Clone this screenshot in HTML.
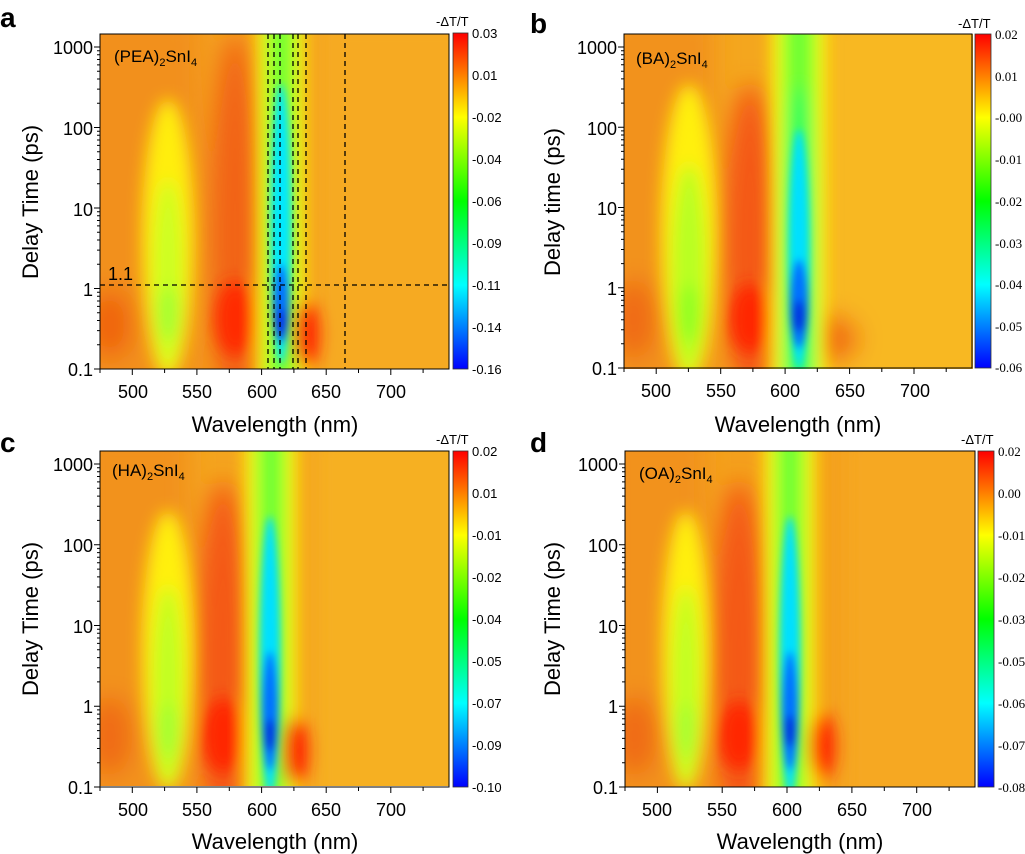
<!DOCTYPE html>
<html><head><meta charset="utf-8"><style>
html,body{margin:0;padding:0;background:#fff;}
svg{display:block;font-family:"Liberation Sans",Arial,sans-serif;}
.tl{font-size:18px;fill:#000;}
.ti{font-size:22px;fill:#000;}
.cb{font-size:13px;fill:#000;}
.cbs{font-size:13px;fill:#000;font-family:"Liberation Serif",serif;}
.pl{font-size:28px;font-weight:bold;fill:#000;}
.nm{font-size:17px;fill:#000;}
</style></head><body>
<svg id="s" width="1025" height="854" viewBox="0 0 1025 854" xmlns="http://www.w3.org/2000/svg">
<defs>
<filter id="b6" x="-50%" y="-50%" width="200%" height="200%"><feGaussianBlur stdDeviation="8"/></filter>
<filter id="b3" x="-50%" y="-50%" width="200%" height="200%"><feGaussianBlur stdDeviation="4"/></filter>
<filter id="b10" x="-50%" y="-50%" width="200%" height="200%"><feGaussianBlur stdDeviation="12"/></filter>
<linearGradient id="jet" x1="0" y1="0" x2="0" y2="1">
<stop offset="0" stop-color="#ff0000"/><stop offset="0.12" stop-color="#ff7a00"/><stop offset="0.25" stop-color="#ffff00"/><stop offset="0.5" stop-color="#00ff00"/><stop offset="0.75" stop-color="#00ffff"/><stop offset="1" stop-color="#0000ff"/>
</linearGradient>
<clipPath id="ca"><rect x="0" y="0" width="349" height="335"/></clipPath>
<clipPath id="cd"><rect x="0" y="0" width="350" height="336"/></clipPath>
</defs>

<!-- Panel a -->
<g transform="translate(100,34)">
<g clip-path="url(#ca)">
<rect width="349" height="335" fill="#f4a01c"/>
<g filter="url(#b10)">
<rect x="215" y="-20" width="160" height="380" fill="#f6aa22"/>
<rect x="-20" y="-20" width="120" height="380" fill="#f2901a"/>
<ellipse cx="10" cy="290" rx="22" ry="35" fill="#f06410"/>
<ellipse cx="135" cy="200" rx="26" ry="200" fill="#f26412"/>
</g>
<g filter="url(#b6)">
<ellipse cx="135" cy="285" rx="20" ry="38" fill="#ff2a00"/>
<ellipse cx="68" cy="205" rx="26" ry="140" fill="#ffee10"/>
<ellipse cx="68" cy="240" rx="15" ry="95" fill="#ccff20"/>
<ellipse cx="68" cy="280" rx="11" ry="28" fill="#a0ff30"/>
<rect x="158" y="-20" width="46" height="380" fill="#ffff00"/>
<rect x="167" y="-20" width="28" height="380" fill="#70ff30"/>
<ellipse cx="206" cy="300" rx="13" ry="34" fill="#ff2000"/>
</g>
<g filter="url(#b3)">
<ellipse cx="181" cy="190" rx="10" ry="140" fill="#00e8ff"/>
<ellipse cx="181" cy="270" rx="8" ry="40" fill="#0070ff"/>
<ellipse cx="181" cy="290" rx="6" ry="16" fill="#0030f0"/>
</g>
</g>
<g stroke="#000" stroke-width="1.3" stroke-dasharray="5,4" fill="none">
<line x1="168" y1="0" x2="168" y2="335"/><line x1="174" y1="0" x2="174" y2="335"/>
<line x1="180" y1="0" x2="180" y2="335"/><line x1="193" y1="0" x2="193" y2="335"/>
<line x1="198" y1="0" x2="198" y2="335"/><line x1="206" y1="0" x2="206" y2="335"/>
<line x1="245" y1="0" x2="245" y2="335"/><line x1="0" y1="251" x2="349" y2="251"/>
</g>
<text x="8" y="246" class="tl">1.1</text>
<text x="14" y="28" class="nm">(PEA)<tspan font-size="11" dy="4">2</tspan><tspan dy="-4">SnI</tspan><tspan font-size="11" dy="4">4</tspan></text>
<rect width="349" height="335" fill="none" stroke="#000" stroke-width="1"/>
</g>

<!-- Panel b -->
<g transform="translate(624,34)">
<g clip-path="url(#ca)">
<rect width="349" height="335" fill="#f4a61e"/>
<g filter="url(#b10)">
<rect x="200" y="-20" width="170" height="380" fill="#f8b820"/>
<rect x="-20" y="-20" width="110" height="380" fill="#f2921a"/>
<ellipse cx="10" cy="285" rx="22" ry="40" fill="#f06a12"/>
<ellipse cx="126" cy="210" rx="28" ry="160" fill="#f45812"/>
<ellipse cx="205" cy="305" rx="30" ry="25" fill="#f27016"/>
</g>
<g filter="url(#b6)">
<ellipse cx="126" cy="285" rx="20" ry="35" fill="#ff2800"/>
<ellipse cx="65" cy="200" rx="28" ry="150" fill="#fff010"/>
<ellipse cx="65" cy="235" rx="17" ry="105" fill="#b8ff20"/>
<ellipse cx="65" cy="280" rx="12" ry="30" fill="#90ff20"/>
<rect x="148" y="-20" width="54" height="380" fill="#ffff00"/>
<rect x="158" y="-20" width="34" height="380" fill="#70ff30"/>
<ellipse cx="175" cy="250" rx="15" ry="200" fill="#20ff60"/>
</g>
<g filter="url(#b3)">
<ellipse cx="175" cy="215" rx="10" ry="120" fill="#00e0ff"/>
<ellipse cx="175" cy="270" rx="9" ry="45" fill="#0070ff"/>
<ellipse cx="175" cy="282" rx="6" ry="16" fill="#0030e0"/>
</g>
</g>
<text x="12" y="30" class="nm">(BA)<tspan font-size="11" dy="4">2</tspan><tspan dy="-4">SnI</tspan><tspan font-size="11" dy="4">4</tspan></text>
<rect width="348" height="334" fill="none" stroke="#000" stroke-width="1"/>
</g>

<!-- Panel c -->
<g transform="translate(100,451)">
<g clip-path="url(#ca)">
<rect width="349" height="336" fill="#f4a41e"/>
<g filter="url(#b10)">
<rect x="215" y="-20" width="160" height="380" fill="#f6b022"/>
<rect x="-20" y="-20" width="110" height="380" fill="#f2921a"/>
<ellipse cx="10" cy="285" rx="22" ry="40" fill="#f06a12"/>
<ellipse cx="123" cy="210" rx="28" ry="180" fill="#f45812"/>
</g>
<g filter="url(#b6)">
<ellipse cx="123" cy="285" rx="20" ry="38" fill="#ff2800"/>
<ellipse cx="68" cy="200" rx="26" ry="140" fill="#fff010"/>
<ellipse cx="68" cy="235" rx="15" ry="100" fill="#c0ff20"/>
<ellipse cx="68" cy="280" rx="11" ry="28" fill="#a0ff30"/>
<rect x="146" y="-20" width="50" height="380" fill="#ffff00"/>
<rect x="156" y="-20" width="30" height="380" fill="#70ff30"/>
<ellipse cx="195" cy="300" rx="13" ry="34" fill="#ff2000"/>
</g>
<g filter="url(#b3)">
<ellipse cx="170" cy="205" rx="10" ry="140" fill="#00e0ff"/>
<ellipse cx="170" cy="260" rx="8" ry="60" fill="#0070ff"/>
<ellipse cx="170" cy="284" rx="6" ry="16" fill="#0030e0"/>
</g>
</g>
<text x="12" y="25" class="nm">(HA)<tspan font-size="11" dy="4">2</tspan><tspan dy="-4">SnI</tspan><tspan font-size="11" dy="4">4</tspan></text>
<rect width="349" height="336" fill="none" stroke="#000" stroke-width="1"/>
</g>

<!-- Panel d -->
<g transform="translate(625,451)">
<g clip-path="url(#cd)">
<rect width="350" height="336" fill="#f4a01c"/>
<g filter="url(#b10)">
<rect x="220" y="-20" width="160" height="380" fill="#f6a822"/>
<rect x="-20" y="-20" width="100" height="380" fill="#f2921a"/>
<ellipse cx="10" cy="285" rx="22" ry="40" fill="#f06a12"/>
<ellipse cx="114" cy="210" rx="28" ry="180" fill="#f45812"/>
</g>
<g filter="url(#b6)">
<ellipse cx="114" cy="285" rx="20" ry="35" fill="#ff2800"/>
<ellipse cx="61" cy="200" rx="24" ry="140" fill="#fff010"/>
<ellipse cx="61" cy="235" rx="14" ry="100" fill="#c0ff20"/>
<ellipse cx="61" cy="280" rx="10" ry="28" fill="#a0ff30"/>
<rect x="140" y="-20" width="50" height="380" fill="#ffff00"/>
<rect x="150" y="-20" width="30" height="380" fill="#70ff30"/>
<ellipse cx="197" cy="295" rx="13" ry="34" fill="#ff2000"/>
</g>
<g filter="url(#b3)">
<ellipse cx="165" cy="205" rx="10" ry="140" fill="#00e0ff"/>
<ellipse cx="165" cy="260" rx="8" ry="60" fill="#0070ff"/>
<ellipse cx="165" cy="280" rx="6" ry="16" fill="#0030e0"/>
</g>
</g>
<text x="14" y="28" class="nm">(OA)<tspan font-size="11" dy="4">2</tspan><tspan dy="-4">SnI</tspan><tspan font-size="11" dy="4">4</tspan></text>
<rect width="350" height="336" fill="none" stroke="#000" stroke-width="1"/>
</g>

<!-- Colorbars -->
<rect x="453" y="33" width="15" height="336" fill="url(#jet)" stroke="#333" stroke-width="0.8"/>
<rect x="975" y="34" width="16" height="334" fill="url(#jet)" stroke="#333" stroke-width="0.8"/>
<rect x="453" y="451" width="15" height="336" fill="url(#jet)" stroke="#333" stroke-width="0.8"/>
<rect x="978" y="451" width="16" height="336" fill="url(#jet)" stroke="#333" stroke-width="0.8"/>

<text x="436" y="26" class="cb">-ΔT/T</text>
<g class="cb">
<text x="472" y="38">0.03</text><text x="472" y="80">0.01</text><text x="472" y="122">-0.02</text><text x="472" y="164">-0.04</text><text x="472" y="206">-0.06</text><text x="472" y="248">-0.09</text><text x="472" y="290">-0.11</text><text x="472" y="332">-0.14</text><text x="472" y="374">-0.16</text>
</g>
<text x="958" y="28" class="cb">-ΔT/T</text>
<g class="cbs">
<text x="995" y="39">0.02</text><text x="995" y="81">0.01</text><text x="995" y="122">-0.00</text><text x="995" y="164">-0.01</text><text x="995" y="206">-0.02</text><text x="995" y="248">-0.03</text><text x="995" y="289">-0.04</text><text x="995" y="331">-0.05</text><text x="995" y="372">-0.06</text>
</g>
<text x="436" y="444" class="cb">-ΔT/T</text>
<g class="cb">
<text x="472" y="456">0.02</text><text x="472" y="498">0.01</text><text x="472" y="540">-0.01</text><text x="472" y="582">-0.02</text><text x="472" y="624">-0.04</text><text x="472" y="666">-0.05</text><text x="472" y="708">-0.07</text><text x="472" y="750">-0.09</text><text x="472" y="792">-0.10</text>
</g>
<text x="961" y="444" class="cb">-ΔT/T</text>
<g class="cbs">
<text x="998" y="456">0.02</text><text x="998" y="498">0.00</text><text x="998" y="540">-0.01</text><text x="998" y="582">-0.02</text><text x="998" y="624">-0.03</text><text x="998" y="666">-0.05</text><text x="998" y="708">-0.06</text><text x="998" y="750">-0.07</text><text x="998" y="792">-0.08</text>
</g>

<!-- Panel letters -->
<text x="0" y="27" class="pl">a</text>
<text x="530" y="33" class="pl">b</text>
<text x="0" y="452" class="pl">c</text>
<text x="530" y="452" class="pl">d</text>

<!-- Y tick labels -->
<g class="tl" text-anchor="end">
<text x="93" y="54">1000</text><text x="93" y="135">100</text><text x="93" y="216">10</text><text x="93" y="296">1</text><text x="93" y="376">0.1</text>
<text x="617" y="54">1000</text><text x="617" y="135">100</text><text x="617" y="215">10</text><text x="617" y="295">1</text><text x="617" y="375">0.1</text>
<text x="93" y="471">1000</text><text x="93" y="552">100</text><text x="93" y="633">10</text><text x="93" y="713">1</text><text x="93" y="794">0.1</text>
<text x="618" y="471">1000</text><text x="618" y="552">100</text><text x="618" y="633">10</text><text x="618" y="713">1</text><text x="618" y="794">0.1</text>
</g>
<!-- X tick labels -->
<g class="tl" text-anchor="middle">
<text x="133" y="398">500</text><text x="197" y="398">550</text><text x="262" y="398">600</text><text x="326" y="398">650</text><text x="391" y="398">700</text>
<text x="656" y="397">500</text><text x="721" y="397">550</text><text x="785" y="397">600</text><text x="850" y="397">650</text><text x="915" y="397">700</text>
<text x="133" y="816">500</text><text x="197" y="816">550</text><text x="262" y="816">600</text><text x="326" y="816">650</text><text x="391" y="816">700</text>
<text x="657" y="816">500</text><text x="722" y="816">550</text><text x="787" y="816">600</text><text x="852" y="816">650</text><text x="917" y="816">700</text>
</g>
<!-- Axis titles -->
<g class="ti" text-anchor="middle">
<text x="275" y="432">Wavelength (nm)</text>
<text x="798" y="432">Wavelength (nm)</text>
<text x="275" y="849">Wavelength (nm)</text>
<text x="800" y="849">Wavelength (nm)</text>
<text transform="translate(38,202) rotate(-90)">Delay Time (ps)</text>
<text transform="translate(560,202) rotate(-90)">Delay time (ps)</text>
<text transform="translate(38,619) rotate(-90)">Delay Time (ps)</text>
<text transform="translate(560,619) rotate(-90)">Delay Time (ps)</text>
</g>
<g id="ticks" stroke="#000" stroke-width="1" fill="none"></g>
</svg>
<script>
(function(){
var panels=[[100,34,349,335],[624,34,348,334],[100,451,349,336],[625,451,350,336]];
var d="";
panels.forEach(function(p){
var ox=p[0],oy=p[1],W=p[2],H=p[3];
var dec=(H-13)/4.0; var y0=oy+H;
for(var e=0;e<5;e++){
 for(var k=1;k<10;k++){
  var y=y0-(e+Math.log10(k))*dec; if(y<oy)continue;
  var L=(k==1)?6:3;
  d+="M"+ox+" "+y.toFixed(1)+"h-"+L;
 }
}
var s=W/270;
for(var l=475;l<=745;l+=25){
 var x=ox+(l-475)*s; var L=((l-500)%50==0)?6:4;
 d+="M"+x.toFixed(1)+" "+(oy+H)+"v"+L;
}
});
var pth=document.createElementNS("http://www.w3.org/2000/svg","path");
pth.setAttribute("d",d);
document.getElementById("ticks").appendChild(pth);
})();
</script>
</body></html>
